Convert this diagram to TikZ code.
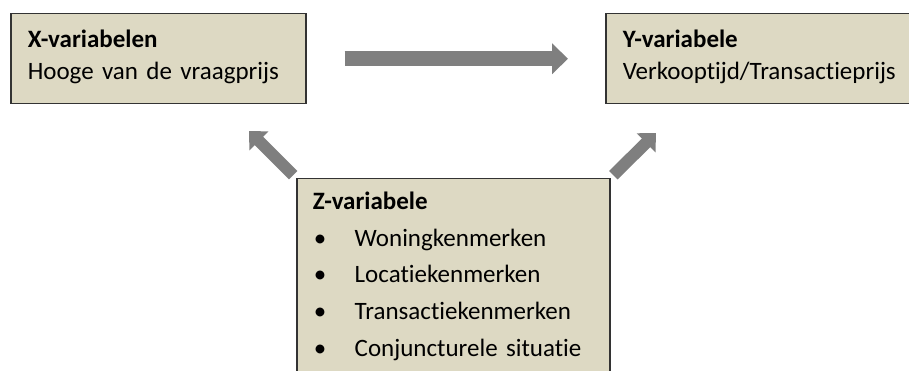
\documentclass[tikz,border=0pt]{standalone}
\usepackage{fontspec}
\setmainfont[Ligatures=NoCommon, WordSpace=0.8]{Carlito}
\usetikzlibrary{arrows.meta}
\definecolor{boxfill}{HTML}{DDD9C3}
\definecolor{arrowgray}{HTML}{7F7F7F}
\tikzset{
    varbox/.style={draw=black!80, line width=1.5pt, fill=boxfill, align=left,
        inner xsep=17pt, font=\fontsize{25}{32}\selectfont},
    bigarrow/.style={draw=arrowgray, line width=15pt,
        -{Triangle[width=30pt, length=16pt]}},
    diagarrow/.style={draw=arrowgray, line width=12pt,
        -{Triangle[width=26pt, length=14pt]}}
}
\newcommand{\zitem}[1]{\makebox[42pt][l]{\hspace{1pt}\textbullet}#1}
\begin{document}
\begin{tikzpicture}[x=1pt, y=-1pt]
        \useasboundingbox (0,0) rectangle (909,371);
        \clip (0,0) rectangle (909,371);

        \node[varbox, anchor=north west, text width=261pt, minimum height=90pt] (xbox) at (10,13)
            {\textbf{X-variabelen}\\Hooge van de vraagprijs\rule[-9pt]{0pt}{0pt}};
        \node[varbox, anchor=north west, text width=300pt, minimum height=90pt] (ybox) at (605,13)
            {\textbf{Y-variabele}\\Verkooptijd/Transactieprijs\rule[-9pt]{0pt}{0pt}};
        \node[varbox, anchor=north west, text width=281pt, inner xsep=16pt, inner ysep=13pt,
            font=\fontsize{25}{36.8}\selectfont] (zbox) at (296,178)
            {\textbf{Z-variabele}\\\zitem{Woningkenmerken}\\\zitem{Locatiekenmerken}\\
             \zitem{Transactiekenmerken}\\\zitem{Conjuncturele situatie}\rule[-40pt]{0pt}{0pt}};

        \coordinate (xin) at (249,131);
        \coordinate (yin) at (656,133);

        \draw[bigarrow, shorten <=38pt, shorten >=37pt] (xbox.east) -- (ybox.west |- xbox.east);
        \draw[diagarrow, shorten <=4pt] (zbox.north west) -- (xin);
        \draw[diagarrow, shorten <=4pt] (zbox.north east) -- (yin);
    \end{tikzpicture}
\end{document}
